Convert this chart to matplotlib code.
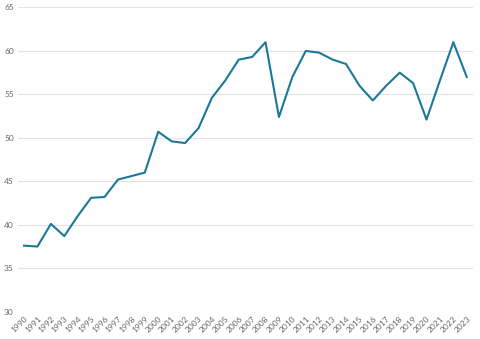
import matplotlib
matplotlib.use("Agg")
import matplotlib.pyplot as plt

years = list(range(1990, 2024))
values = [37.6, 37.5, 40.1, 38.7, 41.0, 43.1, 43.2, 45.2, 45.6, 46.0,
          50.7, 49.6, 49.4, 51.1, 54.6, 56.6, 59.0, 59.3, 61.0, 52.4,
          57.0, 60.0, 59.8, 59.0, 58.5, 56.0, 54.3, 56.0, 57.5, 56.3,
          52.1, 56.6, 61.0, 57.0]
yticks = [30, 35, 40, 45, 50, 55, 60, 65]

plt.rcParams['font.family'] = ['Lato', 'DejaVu Sans']
fig = plt.figure(figsize=(4.8, 3.39), dpi=100)
ax = fig.add_axes([0.0375, 0.0805, 0.9475, 0.8975])
ax.plot(years, values, color='#1b7898', linewidth=1.5)
ax.set_ylim(30, 65)
ax.set_xlim(1989.55, 2023.45)
ax.set_yticks(yticks)
ax.set_xticks(years)
ax.set_xticklabels([str(y) for y in years], rotation=45, ha='right', rotation_mode='anchor')
ax.grid(axis='y', color='#e3e3e3', linewidth=0.8)
ax.set_axisbelow(True)
for s in ax.spines.values():
    s.set_visible(False)
ax.tick_params(axis='both', length=0, labelsize=6, colors='#666666', pad=2)
ax.tick_params(axis='y', pad=3)
fig.savefig('out.png', dpi=100)
